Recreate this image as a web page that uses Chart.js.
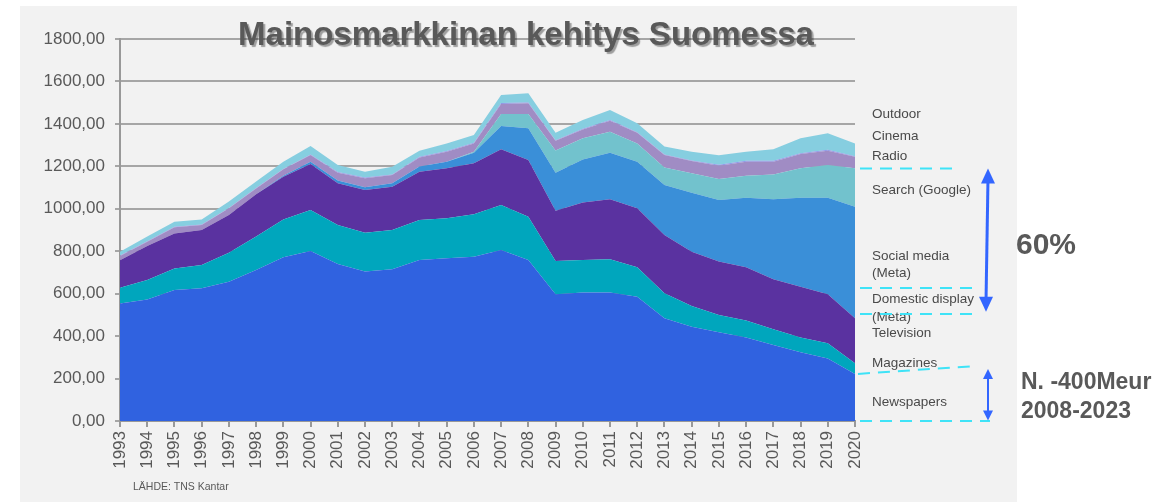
<!DOCTYPE html>
<html>
<head>
<meta charset="utf-8">
<script src="https://cdn.jsdelivr.net/npm/chart.js@4.4.1/dist/chart.umd.min.js"></script>
<style>
  body { margin: 0; background: #fff; }
  canvas { display: block; }
</style>
</head>
<body>
<canvas id="adChart" width="1175" height="502"></canvas>
<script>
const years = ['1993','1994','1995','1996','1997','1998','1999','2000','2001','2002','2003','2004','2005','2006','2007','2008','2009','2010','2011','2012','2013','2014','2015','2016','2017','2018','2019','2020'];

// milj. euroa, luettu kuvasta
const newspapers = [554,573,617,625,656,711,772,801,740,704,715,759,767,774,806,759,597,606,606,586,484,444,418,394,358,324,295,221];
const magazines  = [74,91,102,110,137,158,178,193,184,183,185,188,188,200,212,204,157,153,156,138,118,98,81,79,74,70,71,51];
const television = [130,161,165,165,178,199,201,217,196,202,204,228,236,240,262,267,237,271,283,278,274,256,252,251,236,239,231,212];
const online     = [0,0,0,0,0,0,5,11,13,13,16,24,31,50,110,149,179,202,219,220,236,278,290,328,377,419,455,526];
const search     = [0,0,0,0,0,0,0,0,0,0,0,0,0,5,57,68,105,100,99,86,82,91,99,104,117,139,154,181];
const radio      = [20,20,29,24,31,28,30,31,37,42,39,43,47,39,47,50,45,42,52,50,59,58,63,66,60,67,68,54];
const cinema     = [2,2,2,2,2,2,2,3,3,3,3,3,3,3,4,4,3,3,3,3,3,3,4,4,4,4,4,3];
const outdoor    = [18,22,24,24,30,30,34,40,33,28,36,28,36,37,38,43,35,41,47,42,37,41,45,43,54,70,78,60];

const yTicks = [0,200,400,600,800,1000,1200,1400,1600,1800];

const sideLabels = [
  ['Outdoor', 114], ['Cinema', 136], ['Radio', 156], ['Search (Google)', 190],
  ['Social media', 256], ['(Meta)', 273], ['Domestic display', 299], ['(Meta)', 317],
  ['Television', 333], ['Magazines', 363], ['Newspapers', 402]
];

function layer(label, data, color, first) {
  return {
    label: label,
    data: data,
    backgroundColor: color,
    borderWidth: 0,
    pointRadius: 0,
    fill: first ? 'origin' : '-1',
    tension: 0
  };
}

function arrowHead(ctx, x, y, dir, w, h) {
  ctx.beginPath();
  ctx.moveTo(x, y);
  ctx.lineTo(x - w / 2, y + dir * h);
  ctx.lineTo(x + w / 2, y + dir * h);
  ctx.closePath();
  ctx.fill();
}

const decor = {
  id: 'decor',
  beforeDraw(chart) {
    const ctx = chart.ctx;
    ctx.save();
    ctx.fillStyle = '#ffffff';
    ctx.fillRect(0, 0, chart.width, chart.height);
    ctx.fillStyle = '#f2f2f2';
    ctx.fillRect(20, 6, 997, 496);
    ctx.restore();
  },
  afterDraw(chart) {
    const ctx = chart.ctx;
    const y = chart.scales.y;
    ctx.save();

    // otsikko
    ctx.font = 'bold 33px "Liberation Sans", Arial, sans-serif';
    ctx.textAlign = 'center';
    ctx.textBaseline = 'alphabetic';
    ctx.shadowColor = 'rgba(0,0,0,0.35)';
    ctx.shadowOffsetX = 2;
    ctx.shadowOffsetY = 2;
    ctx.shadowBlur = 1;
    ctx.fillStyle = '#595959';
    ctx.fillText('Mainosmarkkinan kehitys Suomessa', 526, 45);
    ctx.shadowColor = 'transparent';

    // sarjojen nimet oikealla
    ctx.font = '13.5px "Liberation Sans", Arial, sans-serif';
    ctx.textAlign = 'left';
    ctx.textBaseline = 'middle';
    ctx.fillStyle = '#4a4a4a';
    sideLabels.forEach(([t, ty]) => ctx.fillText(t, 872, ty));

    // katkoviivat
    ctx.strokeStyle = '#3fe3f7';
    ctx.lineWidth = 2;
    ctx.setLineDash([12, 8]);
    const dash = (x1, v1, x2, v2) => {
      ctx.beginPath();
      ctx.moveTo(x1, y.getPixelForValue(v1));
      ctx.lineTo(x2, y.getPixelForValue(v2));
      ctx.stroke();
    };
    dash(860, 1190, 960, 1190);
    dash(860, 627, 975, 627);
    dash(860, 504, 975, 504);
    dash(858, 222, 975, 259);
    dash(860, 0, 990, 0);
    ctx.setLineDash([]);

    // nuolet
    ctx.strokeStyle = '#3366ff';
    ctx.fillStyle = '#3366ff';
    ctx.lineWidth = 3;
    const a1 = y.getPixelForValue(1190), a2 = y.getPixelForValue(515);
    ctx.beginPath();
    ctx.moveTo(988, a1 + 10);
    ctx.lineTo(986, a2 - 10);
    ctx.stroke();
    arrowHead(ctx, 988, a1, 1, 14, 15);
    arrowHead(ctx, 986, a2, -1, 14, 15);

    const b1 = y.getPixelForValue(245), b2 = y.getPixelForValue(2);
    ctx.lineWidth = 2;
    ctx.beginPath();
    ctx.moveTo(988, b1 + 8);
    ctx.lineTo(988, b2 - 8);
    ctx.stroke();
    arrowHead(ctx, 988, b1, 1, 10, 10);
    arrowHead(ctx, 988, b2, -1, 10, 10);

    // kommentit
    ctx.fillStyle = '#595959';
    ctx.textAlign = 'left';
    ctx.textBaseline = 'alphabetic';
    ctx.font = 'bold 30px "Liberation Sans", Arial, sans-serif';
    ctx.fillText('60%', 1016, 254);
    ctx.font = 'bold 23px "Liberation Sans", Arial, sans-serif';
    ctx.fillText('N. -400Meur', 1021, 389);
    ctx.fillText('2008-2023', 1021, 418);

    ctx.font = '10.5px "Liberation Sans", Arial, sans-serif';
    ctx.fillStyle = '#595959';
    ctx.fillText('LÄHDE: TNS Kantar', 133, 490);
    ctx.restore();
  }
};

new Chart(document.getElementById('adChart').getContext('2d'), {
  type: 'line',
  data: {
    labels: years,
    datasets: [
      layer('Newspapers', newspapers, '#3062e0', true),
      layer('Magazines', magazines, '#00a6bd'),
      layer('Television', television, '#5a32a0'),
      layer('Social media & domestic display', online, '#3a8fd8'),
      layer('Search (Google)', search, '#72c2cd'),
      layer('Radio', radio, '#a08cc4'),
      layer('Cinema', cinema, '#8e98e8'),
      layer('Outdoor', outdoor, '#86cee0')
    ]
  },
  options: {
    responsive: false,
    animation: false,
    layout: { padding: { left: 0, right: 320, top: 39, bottom: 0 } },
    plugins: {
      legend: { display: false },
      title: { display: false },
      tooltip: { enabled: false }
    },
    scales: {
      x: {
        offset: false,
        grid: { drawOnChartArea: false, drawTicks: true, tickLength: 6, color: '#999', lineWidth: 2 },
        border: { color: '#999', width: 2 },
        ticks: {
          autoSkip: false, maxRotation: 90, minRotation: 90, padding: 4,
          color: '#595959', font: { family: '"Liberation Sans", Arial, sans-serif', size: 17 }
        },
        afterFit(scale) { scale.height = 81; }
      },
      y: {
        stacked: true,
        min: 0,
        max: 1800,
        afterBuildTicks(scale) { scale.ticks = yTicks.map(v => ({ value: v })); },
        grid: { color: '#a6a6a6', lineWidth: 2, tickLength: 5 },
        border: { color: '#999', width: 2 },
        ticks: {
          padding: 10,
          color: '#595959',
          font: { family: '"Liberation Sans", Arial, sans-serif', size: 17 },
          callback: v => v.toFixed(2).replace('.', ',')
        },
        afterFit(scale) { scale.width = 120; }
      }
    }
  },
  plugins: [decor]
});
</script>
</body>
</html>
